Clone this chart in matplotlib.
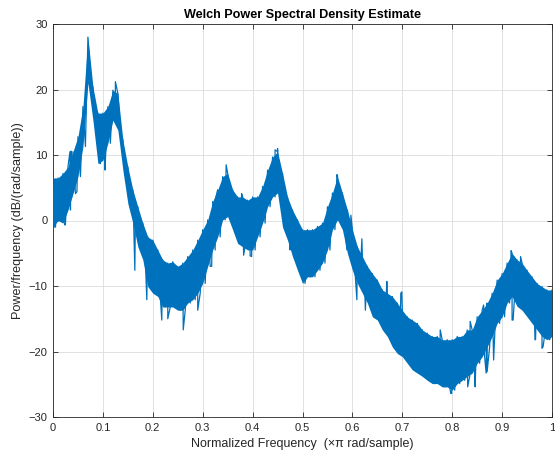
import numpy as np
import matplotlib
matplotlib.use("Agg")
import matplotlib.pyplot as plt

plt.rcParams['font.family'] = ['Liberation Sans', 'DejaVu Sans']

# frequency grid (x pi rad/sample) at which the band edges were read
freq = [round(0.01 * i, 2) for i in range(101)]

# upper edge of the noisy PSD band (dB/(rad/sample))
upper = [6.5, 6.5, 7.2, 8.2, 10.5, 12.8, 17.4, 28.0, 20.4, 16.4,
         16.4, 17.4, 19.9, 19.4, 12.3, 8.2, 4.7, 2.1, -0.4, -2.5,
         -3.0, -4.5, -6.0, -6.5, -6.3, -7.0, -6.5, -5.5, -4.5, -3.0,
         -1.4, 0.1, 2.9, 4.7, 6.7, 7.2, 4.7, 3.6, 3.6, 3.1,
         3.6, 3.6, 5.2, 7.7, 9.7, 10.5, 7.2, 3.6, 1.6, 0.1,
         -1.4, -1.4, -1.4, -0.9, -0.4, 2.1, 4.2, 6.7, 4.2, 1.6,
         -1.4, -4.0, -5.5, -7.0, -8.1, -9.1, -10.6, -11.1, -11.6, -12.6,
         -13.7, -14.7, -15.2, -15.7, -16.7, -17.2, -17.7, -17.7, -18.2, -18.2,
         -18.2, -17.7, -17.7, -16.7, -16.7, -14.7, -13.7, -12.6, -11.1, -9.1,
         -8.1, -6.5, -5.0, -6.0, -6.5, -7.6, -8.6, -9.6, -10.1, -10.6,
         -10.6]

# lower edge of the noisy PSD band
lower = [-1.0, 0.0, -0.4, 1.6, 4.1, 6.7, 11.3, 21.0, 15.3, 8.7,
         9.2, 11.8, 15.3, 13.8, 7.7, 2.6, -0.4, -4.0, -6.0, -10.1,
         -11.1, -11.6, -13.2, -13.2, -13.2, -13.7, -13.7, -12.6, -12.1, -11.1,
         -9.6, -7.0, -4.5, -2.5, 0.1, 0.6, -1.4, -3.5, -4.0, -4.5,
         -4.5, -2.5, -0.4, 2.1, 3.6, 4.2, -1.0, -3.0, -5.5, -7.6,
         -9.6, -8.6, -8.6, -7.6, -6.5, -4.5, -1.4, 0.1, -1.4, -5.0,
         -7.6, -9.6, -11.1, -12.6, -14.7, -15.2, -16.7, -17.7, -19.3, -20.3,
         -20.8, -21.8, -22.8, -23.3, -23.8, -24.4, -24.9, -24.9, -25.4, -25.4,
         -25.9, -24.9, -24.4, -23.8, -23.3, -21.8, -20.8, -19.3, -17.7, -15.7,
         -14.7, -12.6, -11.6, -13.1, -13.7, -14.7, -15.7, -16.7, -17.7, -18.2,
         -17.7]

# isolated spikes that stick out of the band
spike_freq = [0.002, 0.024, 0.034, 0.036, 0.037, 0.048, 0.094, 0.104, 0.125,
              0.164, 0.188, 0.218, 0.23, 0.261, 0.29, 0.318, 0.325, 0.347,
              0.378, 0.382, 0.395, 0.398, 0.445, 0.45, 0.475, 0.509, 0.569,
              0.57, 0.589, 0.597, 0.609, 0.619, 0.626, 0.669, 0.697, 0.699,
              0.776, 0.797, 0.799, 0.831, 0.836, 0.846, 0.863, 0.868, 0.870,
              0.883, 0.918, 0.920, 0.922, 0.937, 0.966, 0.967, 0.980, 0.982,
              0.997]
spike_val = [-1.0, -0.7, 10.5, 10.6, 3.4, 4.4, 8.7, 7.7, 21.2,
             -7.6, -12.1, -15.2, -15.0, -16.7, -13.7, -7.0, 3.1, 8.5,
             4.1, -5.3, -5.4, -5.5, 10.8, 11.0, -4.5, -7.3, 7.0,
             6.9, -4.5, 0.8, -12.1, -2.8, -13.7, -9.3, -11.1, -10.9,
             -16.7, -26.4, -26.4, -25.4, -15.4, -25.4, -12.9, -23.3, -23.1,
             -21.3, -4.6, -15.2, -15.2, -5.5, -18.2, -18.2, -19.5, -19.3,
             -17.7]

color = '#0072BD'

fig = plt.figure(figsize=(5.55, 4.53), dpi=100)
ax = fig.add_axes([53 / 555, 36 / 453, 499 / 555, 393 / 453])

# build the trace: alternate between the upper and lower band edges
pts = []
for f, hi, lo in zip(freq, upper, lower):
    pts.append((f, hi))
    if f < 1.0:
        pts.append((f + 0.005, lo))
    else:
        pts.append((f, lo))
for f, v in zip(spike_freq, spike_val):
    pts.append((f, v))
pts.sort(key=lambda p: p[0])
xs = [p[0] for p in pts]
ys = [p[1] for p in pts]

ax.fill_between(freq, lower, upper, color=color, lw=0, zorder=2)
ax.plot(xs, ys, color=color, lw=0.9, zorder=3)

ax.set_xlim(0, 1)
ax.set_ylim(-30, 30)
ax.set_xticks(np.arange(0, 1.01, 0.1))
ax.set_xticklabels(['0', '0.1', '0.2', '0.3', '0.4', '0.5', '0.6', '0.7',
                    '0.8', '0.9', '1'])
ax.set_yticks(np.arange(-30, 31, 10))
ax.grid(True, color='#dcdcdc', lw=0.6, zorder=0)
ax.set_axisbelow(True)

for s in ax.spines.values():
    s.set_color('#262626')
    s.set_linewidth(0.6)
ax.tick_params(direction='in', length=3.5, width=0.6, colors='#262626',
               labelsize=8, top=True, right=True, pad=4)

ax.set_title('Welch Power Spectral Density Estimate', fontsize=9.1,
             fontweight='bold', color='black', pad=4)
ax.set_xlabel('Normalized Frequency  (\u00d7\u03c0 rad/sample)', fontsize=9,
              color='#262626', labelpad=4)
ax.set_ylabel('Power/frequency (dB/(rad/sample))', fontsize=9.1,
              color='#262626', labelpad=3)

fig.savefig('out.png', dpi=100)
